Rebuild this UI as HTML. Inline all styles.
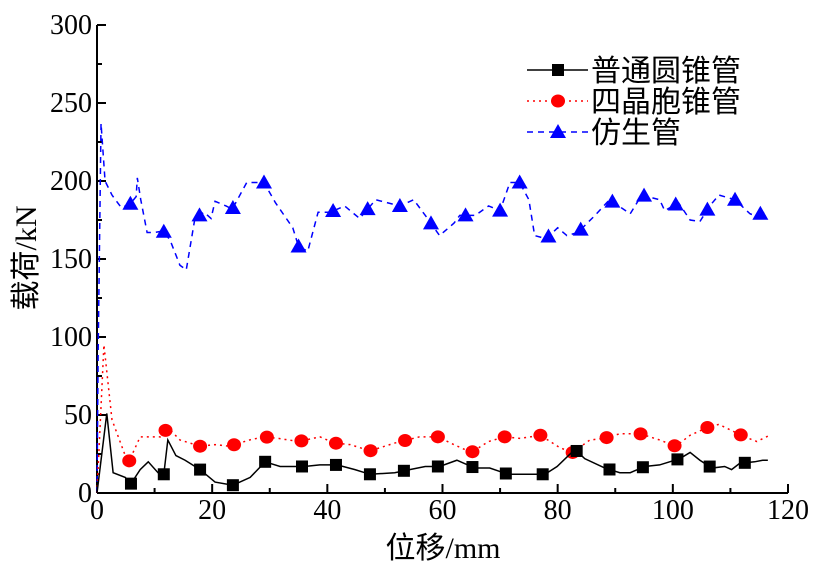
<!DOCTYPE html>
<html><head><meta charset="utf-8"><style>
html,body{margin:0;padding:0;background:#fff;}
svg{display:block;}
text{font-family:"Liberation Serif","Noto Serif CJK SC",serif;fill:#000;}
.cjk{font-family:"Liberation Serif","Noto Sans CJK SC",sans-serif;}
</style></head><body>
<svg id="chart" width="813" height="571" viewBox="0 0 813 571">
<g id="axes"></g>
<g id="series"></g>
<g id="legend">
  <g>
    <line x1="527" y1="70" x2="588" y2="70" stroke="#000" stroke-width="1.5"/>
    <rect x="552" y="64" width="12" height="12" fill="#000"/>
    <text class="cjk" x="591" y="81" font-size="30">普通圆锥管</text>
  </g>
  <g>
    <line x1="527" y1="101" x2="588" y2="101" stroke="#f00" stroke-width="1.5" stroke-dasharray="2,4"/>
    <ellipse cx="558" cy="101" rx="7" ry="6.5" fill="#f00"/>
    <text class="cjk" x="591" y="112" font-size="30">四晶胞锥管</text>
  </g>
  <g>
    <line x1="527" y1="132" x2="588" y2="132" stroke="#00f" stroke-width="1.5" stroke-dasharray="6,5"/>
    <polygon points="558,124 566,138 550,138" fill="#00f"/>
    <text class="cjk" x="591" y="143" font-size="30">仿生管</text>
  </g>
</g>
<text class="cjk" x="443" y="558" font-size="30" text-anchor="middle">位移/mm</text>
<text class="cjk" x="0" y="0" font-size="30" text-anchor="middle" transform="translate(36,258) rotate(-90)">载荷/kN</text>
</svg>
<script>
const xTicks = [0,20,40,60,80,100,120];
const yTicks = [0,50,100,150,200,250,300];
const coneX = [0,1.7,2.8,4.9,5.9,7.5,8.9,10.6,11.6,12.3,13.7,15.3,17.9,20.5,23.6,26.6,29.2,31.8,36,38.7,41.7,44.8,47.4,51.7,54.3,57,59.5,62.5,65.6,68.2,71.4,73.4,77.8,79.9,83,84.7,88.2,90.8,92.6,95.1,97.7,101.2,103,104.7,106.8,109,110.2,111.6,114.2,115.6,116.5];
const coneY = [0,51,13,10,6,15,20,13,12,34,24,21,15,7,5,10,20,17,17,18,18,15,12,13,15,17,17,21,16,16,12,12,12,17,28,22,16,13,13,17,18,22,26,21,16,17,15,19,20,21,21];
const coneMarkers = [5.9,11.6,17.9,23.6,29.2,35.6,41.5,47.4,53.3,59.2,65.2,71,77.4,83.3,89,94.8,100.8,106.4,112.5];
const cellX = [0,1.2,2.6,5.4,7.5,11,12.3,14.4,17.9,20.5,23,26.5,29,31.5,35,38.7,41.3,44,47.4,51.7,56,59.2,62,65,68,70.8,73.5,77,80.4,82.6,85.6,88,90.8,94.3,97.7,100.5,103,106,108,110.8,112.5,114.6,116.8];
const cellY = [0,95,47,19,36,36,42,34,30,31,30,34,36,35,33,36,32,31,27,32,36,36,31,26,33,36,35,37,29,26,34,35,38,38,34,30,37,42,44,39,36,33,37];
const cellMarkers = [5.6,11.9,17.9,23.8,29.5,35.5,41.5,47.5,53.5,59.2,65.2,70.8,77,82.6,88.5,94.4,100.3,106,111.8];
const bionX = [0,0.2,0.7,1.4,2.6,4.2,5.7,6.8,7,7.6,8.7,10,11.5,12.7,14.4,15.5,17,18.6,19.8,20.5,22.4,23.5,26,29,31,34,35,36.6,38.4,40.5,43,45.6,48.4,52.6,55,57,59.5,62,63,65.7,68,70,71.7,73.4,75,76,78,80,81.6,83.5,86.5,89,92.6,94.6,97.7,98.6,101,103,104.7,106.4,108,110.8,113.4,114.8,115.6,116];
const bionY = [0,90,237,200,191,183,185,190,202,188,167,167,168,162,146,143,176,180,176,187,184,182,199,199,186,170,158,155,180,180,184,176,188,184,188,178,165,173,178,178,184,181,199,199,188,165,163,170,165,167,178,188,179,191,188,181,186,175,174,184,191,188,179,177,181,177];
const bionMarkers = [5.8,11.6,17.8,23.6,29,35,41,47,52.6,58,64,70,73.4,78.4,84,89.5,95,100.5,106,110.8,115.2];

const X0=97, XPX=(788-97)/120, Y0=493, YPX=(493-25)/300;
const sx = v => X0 + v*XPX;
const sy = v => Y0 - v*YPX;
const NS='http://www.w3.org/2000/svg';
function mk(tag, attrs, parent){const e=document.createElementNS(NS,tag);for(const k in attrs)e.setAttribute(k,attrs[k]);parent.appendChild(e);return e;}
function interp(xs,ys,x){for(let i=1;i<xs.length;i++){if(x<=xs[i]){const t=(x-xs[i-1])/(xs[i]-xs[i-1]);return ys[i-1]+t*(ys[i]-ys[i-1]);}}return ys[ys.length-1];}

const axes=document.getElementById('axes');
let l=mk('line',{x1:X0,y1:sy(300),x2:X0,y2:Y0,stroke:'#000','stroke-width':2},axes);


l=mk('line',{x1:X0,y1:Y0,x2:sx(120),y2:Y0,stroke:'#000','stroke-width':2},axes);


for(let v=0;v<=300;v+=25){const major=v%50===0;
  const t=mk('line',{x1:X0,y1:sy(v),x2:X0+(major?9:5),y2:sy(v),stroke:'#000','stroke-width':2},axes);
  
  }
for(let v=0;v<=120;v+=10){const major=v%20===0;
  const t=mk('line',{x1:sx(v),y1:Y0,x2:sx(v),y2:Y0-(major?9:5),stroke:'#000','stroke-width':2},axes);
  
  }
yTicks.forEach(v=>{const t=mk('text',{x:X0-5,y:sy(v)+9,'font-size':28,'text-anchor':'end'},axes);t.textContent=v;
  
  });
xTicks.forEach(v=>{const t=mk('text',{x:sx(v),y:Y0+26,'font-size':28,'text-anchor':'middle'},axes);t.textContent=v;
  
  });

const sg=document.getElementById('series');
function drawSeries(xs,ys,markers,color,dash,shape,name){
  const g=mk('g',{},sg);
  
  
  const p=mk('polyline',{points:xs.map((x,i)=>sx(x)+','+sy(ys[i])).join(' '),fill:'none',stroke:color,'stroke-width':1.5,'stroke-dasharray':dash},g);
  
  
  markers.forEach(mx=>{const cx=sx(mx),cy=sy(interp(xs,ys,mx));let m;
    if(shape==='sq')m=mk('rect',{x:cx-6,y:cy-6,width:12,height:12,fill:color},g);
    else if(shape==='c')m=mk('ellipse',{cx:cx,cy:cy,rx:7,ry:6.5,fill:color},g);
    else m=mk('polygon',{points:`${cx},${cy-8} ${cx+8},${cy+6} ${cx-8},${cy+6}`,fill:color},g);
    
    });
}
drawSeries(bionX,bionY,bionMarkers,'#00f','6,5','t','bionic-tube-series');
drawSeries(cellX,cellY,cellMarkers,'#f00','2,4','c','four-cell-cone-series');
drawSeries(coneX,coneY,coneMarkers,'#000','none','sq','cone-tube-series');
</script>
</body></html>
